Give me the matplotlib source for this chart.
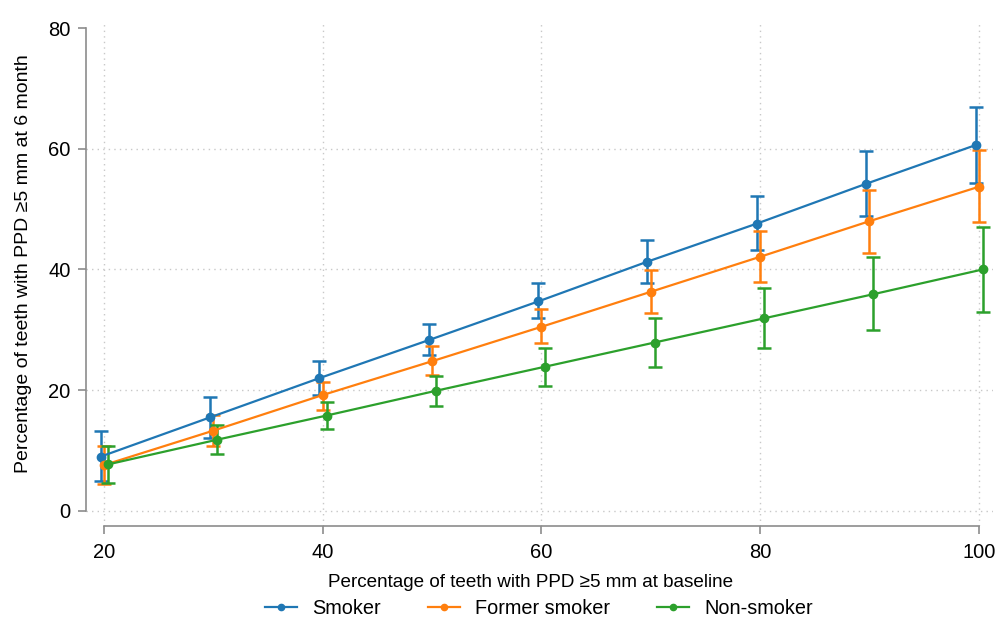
import matplotlib
matplotlib.use("Agg")
import matplotlib.pyplot as plt
import numpy as np

plt.rcParams['font.family'] = ['Liberation Sans', 'DejaVu Sans']

baseline = [20, 30, 40, 50, 60, 70, 80, 90, 100]

smoker = [9.0, 15.5, 22.0, 28.3, 34.7, 41.3, 47.6, 54.2, 60.6]
smoker_lo = [4.9, 12.0, 19.2, 25.8, 31.9, 37.7, 43.2, 48.9, 54.3]
smoker_hi = [13.2, 18.9, 24.8, 31.0, 37.7, 44.9, 52.2, 59.6, 67.0]

former = [7.6, 13.3, 19.2, 24.8, 30.5, 36.3, 42.1, 48.0, 53.7]
former_lo = [4.4, 10.8, 16.8, 22.5, 27.9, 32.8, 37.9, 42.8, 47.8]
former_hi = [10.8, 15.9, 21.4, 27.3, 33.4, 39.9, 46.4, 53.2, 59.8]

nonsmoker = [7.7, 11.8, 15.8, 19.9, 23.9, 27.9, 31.9, 35.9, 40.0]
nonsmoker_lo = [4.7, 9.4, 13.5, 17.3, 20.7, 23.9, 27.0, 30.0, 33.0]
nonsmoker_hi = [10.8, 14.2, 18.0, 22.4, 27.0, 31.9, 37.0, 42.0, 47.1]

series = [
    ("Smoker", smoker, smoker_lo, smoker_hi, "#1f77b4", -0.3),
    ("Former smoker", former, former_lo, former_hi, "#ff7f0e", 0.0),
    ("Non-smoker", nonsmoker, nonsmoker_lo, nonsmoker_hi, "#2ca02c", 0.35),
]

fig = plt.figure(figsize=(9.96, 6.2), dpi=100)
ax = fig.add_axes([86/996, 1-526/620, (993-86)/996, (526-22)/620])

for name, y, lo, hi, col, off in series:
    x = np.array(baseline) + off
    y = np.array(y)
    yerr = np.vstack([y - np.array(lo), np.array(hi) - y])
    ax.errorbar(x, y, yerr=yerr, color=col, lw=1.6, marker='o', ms=6,
                elinewidth=1.8, capsize=5, capthick=1.8, label=name, zorder=3)

ax.set_xlim(18.35, 101.3)
ax.set_ylim(-2.5, 81)
ax.set_xticks([20, 40, 60, 80, 100])
ax.set_yticks([0, 20, 40, 60, 80])

for y in [0, 20, 40, 60]:
    ax.axhline(y, color='#c8c8c8', lw=1.0, ls=(0, (1, 3)), zorder=1)
for x in [20, 40, 60, 80, 100]:
    ax.axvline(x, color='#c8c8c8', lw=1.0, ls=(0, (1, 3)), zorder=1)

for s in ['top', 'right']:
    ax.spines[s].set_visible(False)
ax.spines['left'].set_bounds(0, 80)
ax.spines['bottom'].set_bounds(20, 100)
for s in ['left', 'bottom']:
    ax.spines[s].set_color('#8c8c8c')
    ax.spines[s].set_linewidth(1.2)
ax.tick_params(axis='both', colors='#8c8c8c', labelcolor='black', labelsize=14.5,
               length=6, width=1.2, direction='out')
ax.tick_params(axis='x', pad=6)
ax.tick_params(axis='y', pad=5)

ax.set_xlabel("Percentage of teeth with PPD ≥5 mm at baseline", fontsize=13.6)
ax.xaxis.set_label_coords(0.49, -0.095)
ax.set_ylabel("Percentage of teeth with PPD ≥5 mm at 6 month", fontsize=14.0)
ax.yaxis.set_label_coords(-0.060, 0.52)

handles = [plt.Line2D([0], [0], color=c, lw=1.6, marker='o', ms=4.5) for _, _, _, _, c, _ in series]
fig.legend(handles, [s[0] for s in series], loc='center', bbox_to_anchor=(0.541, 0.018),
           ncol=3, frameon=False, fontsize=14.3, handlelength=1.6, handletextpad=0.75,
           columnspacing=2.4)

fig.savefig("out.png", dpi=100)
